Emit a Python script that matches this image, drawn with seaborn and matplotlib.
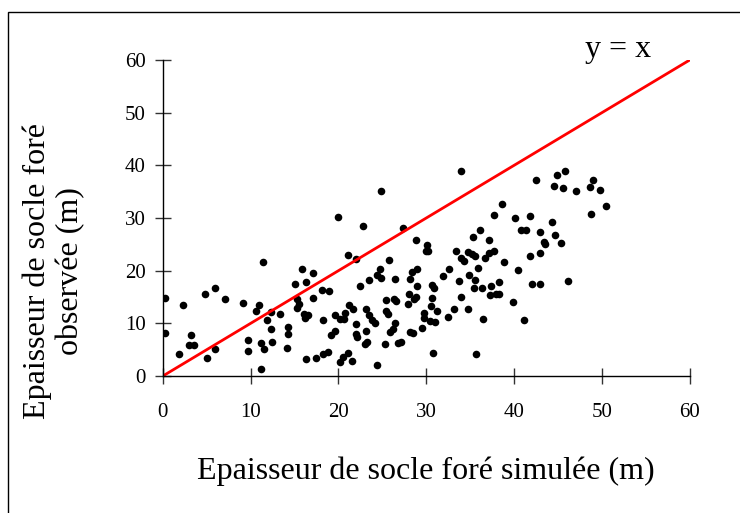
import matplotlib
matplotlib.use("Agg")
import matplotlib.pyplot as plt
import seaborn as sns
import pandas as pd
from matplotlib.patches import Rectangle

simulee = [0.2, 0.3, 1.9, 2.3, 3.0, 3.2, 3.5, 4.8, 5.0, 5.9, 5.9, 7.1, 9.1, 9.7, 9.7,
           10.6, 10.9, 11.2, 11.2, 11.4, 11.5, 11.9, 12.3, 12.3, 12.4, 13.4, 14.1, 14.3,
           14.3, 15.1, 15.3, 15.3, 15.5, 15.9, 16.1, 16.2, 16.3, 16.3, 16.5, 17.1, 17.1,
           17.5, 18.1, 18.3, 18.3, 18.8, 18.9, 19.1, 19.6, 19.6, 19.9, 20.2, 20.2, 20.5,
           20.6, 20.8, 21.1, 21.1, 21.2, 21.5, 21.7, 22.0, 22.0, 22.0, 22.1, 22.4, 22.8,
           23.0, 23.1, 23.1, 23.2, 23.5, 23.5, 23.8, 24.2, 24.4, 24.4, 24.7, 24.8, 24.8,
           25.3, 25.4, 25.4, 25.7, 25.8, 25.9, 26.2, 26.3, 26.4, 26.4, 26.6, 26.8, 27.1,
           27.4, 27.9, 28.0, 28.1, 28.2, 28.5, 28.4, 28.6, 28.8, 28.8, 28.9, 29.0, 29.5,
           29.8, 29.8, 30.0, 30.1, 30.2, 30.4, 30.5, 30.6, 30.7, 30.8, 30.9, 31.0, 31.2,
           31.9, 32.5, 32.6, 33.2, 33.4, 33.7, 34.0, 34.0, 34.0, 34.3, 34.7, 34.7, 34.9,
           35.2, 35.3, 35.4, 35.5, 35.6, 35.7, 35.9, 36.1, 36.3, 36.5, 36.7, 37.1, 37.2,
           37.3, 37.4, 37.7, 37.7, 37.9, 38.3, 38.3, 38.6, 38.8, 39.9, 40.1, 40.4, 40.8,
           41.1, 41.4, 41.8, 41.8, 42.0, 42.5, 43.0, 43.0, 43.0, 43.4, 43.5, 44.3, 44.6,
           44.7, 44.9, 45.4, 45.6, 45.8, 46.1, 47.0, 48.6, 48.8, 49.0, 49.8, 50.5]
observee = [14.9, 8.2, 4.2, 13.5, 5.8, 7.8, 5.9, 15.6, 3.4, 16.7, 5.2, 14.7, 13.8, 6.9, 4.8,
            12.3, 13.5, 1.4, 6.3, 21.7, 5.1, 10.6, 12.2, 9.0, 6.5, 11.8, 5.3, 8.0,
            9.4, 17.4, 14.7, 13.0, 13.6, 20.3, 11.8, 11.1, 17.8, 3.2, 11.5, 14.8, 19.6,
            3.4, 16.3, 10.6, 4.2, 4.5, 16.1, 7.8, 8.5, 11.6, 30.1, 2.7, 10.9, 3.7,
            10.9, 11.9, 4.4, 22.9, 13.5, 2.8, 12.7, 8.0, 9.9, 22.3, 7.4, 17.0, 28.4,
            6.1, 12.8, 8.6, 6.5, 18.2, 11.6, 10.6, 10.1, 2.1, 19.2, 20.4, 35.1, 18.7,
            6.1, 14.4, 12.3, 11.7, 22.0, 8.4, 8.9, 14.6, 18.5, 10.1, 14.2, 6.3, 6.5,
            28.2, 13.7, 15.5, 18.5, 8.4, 8.2, 19.7, 14.6, 25.8, 15.0, 20.4, 17.0, 9.1,
            12.0, 11.1, 23.7, 24.9, 23.7, 10.4, 13.3, 14.9, 17.2, 4.4, 16.7, 10.3, 12.3,
            19.0, 11.3, 20.3, 12.7, 23.7, 18.0, 15.0, 38.9, 22.5, 21.8, 12.7, 23.6, 19.1,
            23.1, 26.4, 16.8, 18.2, 22.8, 4.1, 20.6, 27.8, 16.7, 10.9, 22.5, 25.9, 23.3,
            15.4, 17.1, 30.5, 23.7, 15.5, 15.5, 17.8, 32.6, 21.6, 14.1, 30.0, 20.1, 27.8,
            10.6, 27.8, 22.8, 30.3, 17.5, 37.3, 17.5, 27.4, 23.4, 25.4, 25.0, 29.2, 36.1,
            26.8, 38.1, 25.2, 35.7, 38.9, 18.0, 35.1, 35.9, 30.7, 37.3, 35.4, 32.3]

ligne = [0, 60]
ticks = [0, 10, 20, 30, 40, 50, 60]

df = pd.DataFrame({"simulee": simulee, "observee": observee})

sns.set_style("white")
plt.rcParams['font.family'] = ['Liberation Serif', 'DejaVu Serif']
plt.rcParams['text.color'] = 'black'
plt.rcParams['axes.labelcolor'] = 'black'
plt.rcParams['xtick.color'] = 'black'
plt.rcParams['ytick.color'] = 'black'

fig = plt.figure(figsize=(7.4, 5.13), dpi=100)
ax = fig.add_axes([0.220, 0.267, 0.712, 0.616])

# frame around the whole chart (right and bottom edges are cut off)
fig.patches.append(Rectangle((8 / 740, -0.1), 2, 1 - 12.5 / 513 + 0.1, transform=fig.transFigure,
                             fill=False, edgecolor="black", linewidth=1))

sns.lineplot(x=ligne, y=ligne, color="red", linewidth=2, ax=ax)
sns.scatterplot(data=df, x="simulee", y="observee", color="black", s=30,
                edgecolor="black", linewidth=0, ax=ax)

ax.set_xlim(0, 60)
ax.set_ylim(0, 60)
ax.set_xticks(ticks)
ax.set_yticks(ticks)
ax.tick_params(left=True, bottom=True, direction="inout", length=11, width=1,
               color="#333333", labelcolor="black", labelsize=15)
ax.tick_params(axis="x", pad=14)
ax.tick_params(axis="y", pad=7)
sns.despine(ax=ax)
for s in ["left", "bottom"]:
    ax.spines[s].set_linewidth(1)
    ax.spines[s].set_color("black")

ax.set_xlabel("Epaisseur de socle foré simulée (m)", fontsize=23, labelpad=25)
ax.set_ylabel("Epaisseur de socle foré\nobservée (m)", fontsize=23,
              linespacing=1.15)
ax.yaxis.set_label_coords(-0.148, 0.332)
ax.text(51.8, 60.5, "y = x", fontsize=23, ha="center", va="baseline")

fig.savefig("out.png", dpi=100)
